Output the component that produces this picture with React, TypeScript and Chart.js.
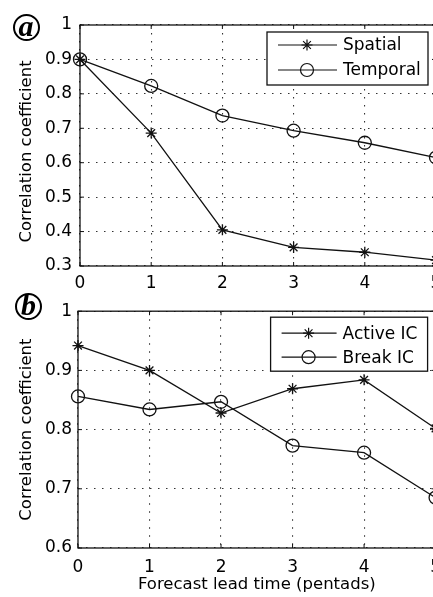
import React, { useEffect, useRef } from 'react';
import { Chart, registerables } from 'chart.js';

Chart.register(...registerables);

// ---------- data ----------
const leadTimes = [0, 1, 2, 3, 4, 5];
const xTickLabels = ['0', '1', '2', '3', '4', '5'];

const spatial = [0.9, 0.686, 0.405, 0.354, 0.34, 0.317];
const temporal = [0.9, 0.823, 0.737, 0.693, 0.658, 0.615];

const activeIC = [0.942, 0.9, 0.828, 0.869, 0.884, 0.802];
const breakIC = [0.856, 0.834, 0.847, 0.773, 0.761, 0.685];

const panelASeriesNames = ['Spatial', 'Temporal'];
const panelBSeriesNames = ['Active IC', 'Break IC'];
const yAxisTitle = 'Correlation coefficient';
const xAxisTitle = 'Forecast lead time (pentads)';
const panelLetters = ['a', 'b'];

// ---------- style ----------
const FONT = "'DejaVu Sans', 'Liberation Sans', sans-serif";
const INK = '#111';
const GRID = '#333';

type LegendGeom = {
  dx: number;
  dy: number;
  w: number;
  h: number;
  rows: number[];
  lineFrom: number;
  lineTo: number;
  marker: number;
  textX: number;
};

function drawMarker(ctx: CanvasRenderingContext2D, style: string, x: number, y: number, r: number) {
  ctx.beginPath();
  if (style === 'circle') {
    ctx.arc(x, y, r, 0, Math.PI * 2);
  } else {
    ctx.moveTo(x - r, y); ctx.lineTo(x + r, y);
    ctx.moveTo(x, y - r); ctx.lineTo(x, y + r);
    const d = r * 0.7071;
    ctx.moveTo(x - d, y - d); ctx.lineTo(x + d, y + d);
    ctx.moveTo(x - d, y + d); ctx.lineTo(x + d, y - d);
  }
  ctx.stroke();
}

function makeFramePlugin(geom: LegendGeom, titleX: number, titleShift: number) {
  return {
    id: 'matlabFrame',
    afterDraw(chart: any) {
      const { ctx, chartArea } = chart;
      const { left, right, top, bottom } = chartArea;
      ctx.save();
      ctx.strokeStyle = INK;
      ctx.lineWidth = 1.3;
      ctx.setLineDash([]);
      ctx.strokeRect(left, top, right - left, bottom - top);
      const xs = chart.scales.x;
      const ys = chart.scales.y;
      ctx.lineWidth = 1;
      ctx.beginPath();
      xs.ticks.forEach((t: any) => {
        const px = xs.getPixelForValue(t.value);
        ctx.moveTo(px, bottom); ctx.lineTo(px, bottom - 4);
        ctx.moveTo(px, top); ctx.lineTo(px, top + 4);
      });
      ys.ticks.forEach((t: any) => {
        const py = ys.getPixelForValue(t.value);
        ctx.moveTo(left, py); ctx.lineTo(left + 4, py);
        ctx.moveTo(right, py); ctx.lineTo(right - 4, py);
      });
      ctx.stroke();

      // y-axis title
      ctx.save();
      ctx.translate(titleX, (top + bottom) / 2 + titleShift);
      ctx.rotate(-Math.PI / 2);
      ctx.font = `16.5px ${FONT}`;
      ctx.fillStyle = '#000';
      ctx.textAlign = 'center';
      ctx.textBaseline = 'middle';
      ctx.fillText(yAxisTitle, 0, 0);
      ctx.restore();

      // legend
      const bx = right - geom.dx - geom.w;
      const by = top + geom.dy;
      ctx.fillStyle = '#fff';
      ctx.fillRect(bx, by, geom.w, geom.h);
      ctx.strokeStyle = INK;
      ctx.lineWidth = 1.3;
      ctx.strokeRect(bx, by, geom.w, geom.h);
      ctx.font = `17px ${FONT}`;
      ctx.textBaseline = 'middle';
      ctx.textAlign = 'left';
      chart.data.datasets.forEach((ds: any, i: number) => {
        const y = by + geom.rows[i];
        ctx.strokeStyle = INK;
        ctx.lineWidth = 1.2;
        ctx.beginPath();
        ctx.moveTo(bx + geom.lineFrom, y);
        ctx.lineTo(bx + geom.lineTo, y);
        ctx.stroke();
        drawMarker(ctx, ds.pointStyle === 'circle' ? 'circle' : 'star', bx + geom.marker, y, ds.pointStyle === 'circle' ? 6.5 : 5.5);
        ctx.fillStyle = '#000';
        ctx.fillText(ds.label, bx + geom.textX, y + 1);
      });
      ctx.restore();
    },
  };
}

function makeDataset(label: string, values: number[], style: 'star' | 'circle') {
  return {
    label,
    data: leadTimes.map((x, i) => ({ x, y: values[i] })),
    borderColor: INK,
    borderWidth: 1.3,
    backgroundColor: 'rgba(0,0,0,0)',
    pointStyle: style,
    pointRadius: style === 'circle' ? 6.5 : 5.5,
    pointBorderColor: INK,
    pointBackgroundColor: 'rgba(0,0,0,0)',
    pointBorderWidth: 1.3,
    tension: 0,
    clip: false as any,
  };
}

type PanelCfg = {
  names: string[];
  series: number[][];
  yMin: number;
  yMax: number;
  yAxisWidth: number;
  yLabelPad: number;
  xAxisHeight: number;
  xLabelPad: number;
  padTop: number;
  showXTitle: boolean;
  titleShift: number;
  legend: LegendGeom;
};

function Panel({ cfg, width, height }: { cfg: PanelCfg; width: number; height: number }) {
  const ref = useRef<HTMLCanvasElement | null>(null);
  useEffect(() => {
    if (!ref.current) return;
    const chart = new Chart(ref.current, {
      type: 'line',
      data: {
        datasets: [
          makeDataset(cfg.names[0], cfg.series[0], 'star'),
          makeDataset(cfg.names[1], cfg.series[1], 'circle'),
        ],
      },
      options: {
        animation: false,
        responsive: false,
        layout: { padding: { top: cfg.padTop, right: 14, left: 0, bottom: 0 } },
        plugins: { legend: { display: false }, tooltip: { enabled: false } },
        scales: {
          x: {
            type: 'linear',
            min: 0,
            max: 5,
            ticks: {
              stepSize: 1,
              color: '#000',
              padding: cfg.xLabelPad,
              maxRotation: 0,
              font: { family: FONT, size: 17 },
              callback: (v: any) => xTickLabels[Math.round(Number(v))] ?? '',
            },
            grid: { color: GRID, lineWidth: 1.1, drawTicks: false },
            border: { display: false, dash: [1.5, 6.5] },
            title: {
              display: cfg.showXTitle,
              text: xAxisTitle,
              color: '#000',
              font: { family: FONT, size: 16.5 },
              padding: { top: 0, bottom: 2 },
            },
            afterFit: (s: any) => { s.height = cfg.xAxisHeight; },
          },
          y: {
            type: 'linear',
            min: cfg.yMin,
            max: cfg.yMax,
            ticks: {
              stepSize: 0.1,
              color: '#000',
              padding: cfg.yLabelPad,
              font: { family: FONT, size: 17 },
              callback: (v: any) => (Math.abs(Number(v) - 1) < 1e-9 ? '1' : Number(v).toFixed(1)),
            },
            grid: { color: GRID, lineWidth: 1.1, drawTicks: false },
            border: { display: false, dash: [1.5, 6.5] },
            title: { display: false },
            afterFit: (s: any) => { s.width = cfg.yAxisWidth; },
          },
        },
      },
      plugins: [makeFramePlugin(cfg.legend, 27, cfg.titleShift)],
    } as any);
    return () => chart.destroy();
  }, []);
  return <canvas ref={ref} width={width} height={height} style={{ display: 'block', width, height }} />;
}

const panelA: PanelCfg = {
  names: panelASeriesNames,
  series: [spatial, temporal],
  yMin: 0.3,
  yMax: 1,
  yAxisWidth: 80,
  yLabelPad: 8,
  xAxisHeight: 29,
  xLabelPad: 7,
  padTop: 25,
  showXTitle: false,
  titleShift: 6,
  legend: { dx: 8, dy: 7, w: 161, h: 53, rows: [13, 38], lineFrom: 11, lineTo: 70, marker: 40, textX: 76 },
};

const panelB: PanelCfg = {
  names: panelBSeriesNames,
  series: [activeIC, breakIC],
  yMin: 0.6,
  yMax: 1,
  yAxisWidth: 78,
  yLabelPad: 6,
  xAxisHeight: 49,
  xLabelPad: 9,
  padTop: 12,
  showXTitle: true,
  titleShift: 0,
  legend: { dx: 8, dy: 6, w: 157, h: 54, rows: [16, 40], lineFrom: 11, lineTo: 66, marker: 38, textX: 72 },
};

function Badge({ letter, cx, cy, d }: { letter: string; cx: number; cy: number; d: number }) {
  return (
    <div
      style={{
        position: 'absolute',
        left: cx - d / 2,
        top: cy - d / 2,
        width: d,
        height: d,
        boxSizing: 'border-box',
        border: '2px solid #000',
        borderRadius: '50%',
        display: 'flex',
        alignItems: 'center',
        justifyContent: 'center',
        fontFamily: "'Liberation Serif', 'DejaVu Serif', serif",
        fontStyle: 'italic',
        fontWeight: 'bold',
        fontSize: 30,
        lineHeight: 1,
        color: '#000',
        paddingBottom: 3,
      }}
    >
      {letter}
    </div>
  );
}

export default function App() {
  return (
    <div style={{ position: 'fixed', left: 0, top: 0, width: 433, height: 597, overflow: 'hidden', background: '#fff' }}>
      <div style={{ position: 'absolute', left: 0, top: 0 }}>
        <Panel cfg={panelA} width={450} height={295} />
      </div>
      <div style={{ position: 'absolute', left: 0, top: 295 }}>
        <Panel cfg={panelB} width={450} height={302} />
      </div>
      <Badge letter={panelLetters[0]} cx={26} cy={27.5} d={27} />
      <Badge letter={panelLetters[1]} cx={28.5} cy={306.5} d={27} />
    </div>
  );
}
